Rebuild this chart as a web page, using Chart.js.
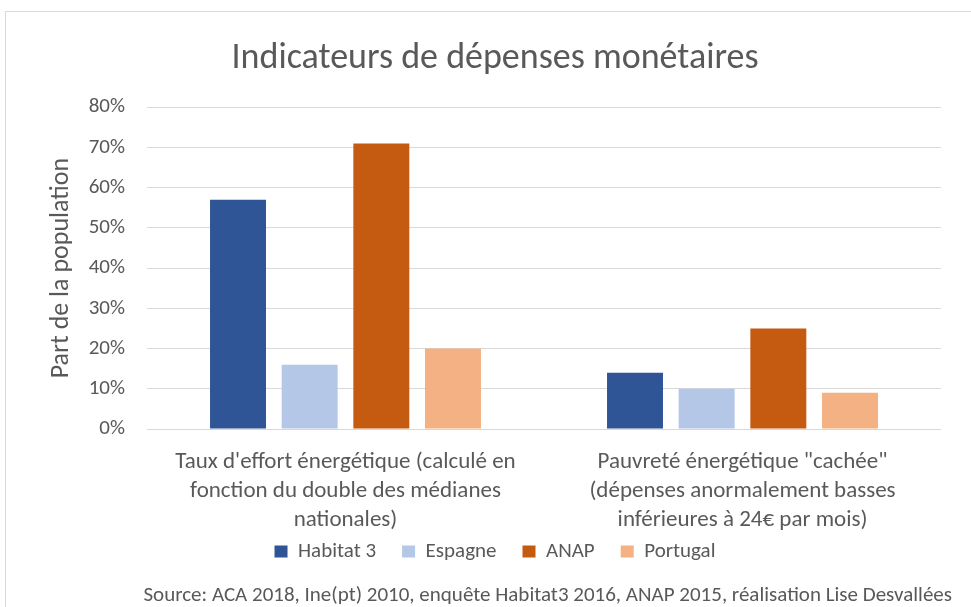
<!DOCTYPE html>
<html>
<head>
<meta charset="utf-8">
<script src="https://cdn.jsdelivr.net/npm/chart.js@4"></script>
<style>
html, body { margin: 0; padding: 0; background: #fff; overflow: hidden; }
#frame { position: absolute; left: 5px; top: 11px; width: 990px; height: 620px; border: 1px solid #d9d9d9; box-sizing: border-box; }
#wrap { position: absolute; left: 0; top: 0; width: 965px; height: 596px; }
</style>
</head>
<body>
<div id="frame"><div id="wrap"><canvas id="c"></canvas></div></div>
<script>
// données
const categories = [
    ["Taux d'effort énergétique (calculé en", 'fonction du double des médianes', 'nationales)'],
    ['Pauvreté énergétique "cachée"', '(dépenses anormalement basses', 'inférieures à 24€ par mois)']
];
const habitat3 = [57, 14];
const espagne = [16, 10];
const anap = [71, 25];
const portugal = [20, 9];
const seriesNames = ['Habitat 3', 'Espagne', 'ANAP', 'Portugal'];
const seriesColors = ['#2F5597', '#B4C7E7', '#C55A11', '#F4B183'];
const yTicks = [0, 10, 20, 30, 40, 50, 60, 70, 80];

const FONT = "Carlito, Lato, sans-serif";
const GREY = '#595959';

Chart.defaults.font.family = FONT;
Chart.defaults.color = GREY;

const seriesData = [habitat3, espagne, anap, portugal];

// remonte la légende plus près des libellés de l'axe X
const shiftLegend = {
    id: 'shiftLegend',
    afterLayout(chart) {
        chart.legend.top -= 20;
        chart.legend.bottom -= 20;
    }
};

new Chart(document.getElementById('c'), {
    type: 'bar',
    data: {
        labels: categories,
        datasets: seriesData.map((d, i) => ({
            label: seriesNames[i],
            data: d,
            backgroundColor: seriesColors[i],
            borderWidth: 0,
            categoryPercentage: 0.722,
            barPercentage: 0.781
        }))
    },
    plugins: [shiftLegend],
    options: {
        responsive: true,
        maintainAspectRatio: false,
        animation: false,
        layout: { padding: { left: 32, right: 19, top: 0, bottom: 0 } },
        plugins: {
            tooltip: { enabled: false },
            title: {
                display: true,
                text: 'Indicateurs de dépenses monétaires',
                color: GREY,
                font: { size: 36, weight: 'normal' },
                padding: { top: 25, bottom: 27 }
            },
            subtitle: {
                display: true,
                position: 'bottom',
                align: 'end',
                text: 'Source: ACA 2018, Ine(pt) 2010, enquête Habitat3 2016, ANAP 2015, réalisation Lise Desvallées',
                color: GREY,
                font: { size: 21, weight: 'normal', lineHeight: 24 / 21 },
                padding: { top: -8, bottom: 0 }
            },
            legend: {
                position: 'bottom',
                labels: {
                    boxWidth: 13,
                    boxHeight: 12,
                    padding: 26,
                    color: GREY,
                    font: { size: 21 }
                }
            }
        },
        scales: {
            x: {
                grid: { display: false, drawTicks: false },
                border: { display: false },
                afterFit: (s) => { s.height = 106; },
                ticks: {
                    color: GREY,
                    font: { size: 23, lineHeight: 29 / 23 },
                    padding: 19,
                    maxRotation: 0,
                    autoSkip: false
                }
            },
            y: {
                min: 0,
                max: 80,
                afterBuildTicks: (s) => { s.ticks = yTicks.map(v => ({ value: v })); },
                afterFit: (s) => { s.width = 109; },
                grid: { color: '#d9d9d9', drawTicks: false },
                border: { display: false },
                ticks: {
                    color: GREY,
                    font: { size: 21 },
                    padding: 22,
                    callback: (v) => v + '%'
                },
                title: {
                    display: true,
                    text: 'Part de la population',
                    color: GREY,
                    font: { size: 26 },
                    padding: { top: 8, bottom: 0 }
                }
            },
            yR: {
                position: 'right',
                display: true,
                grid: { display: false },
                border: { display: false },
                ticks: { display: false },
                afterFit: (s) => { s.width = 11; }
            }
        }
    }
});
</script>
</body>
</html>
